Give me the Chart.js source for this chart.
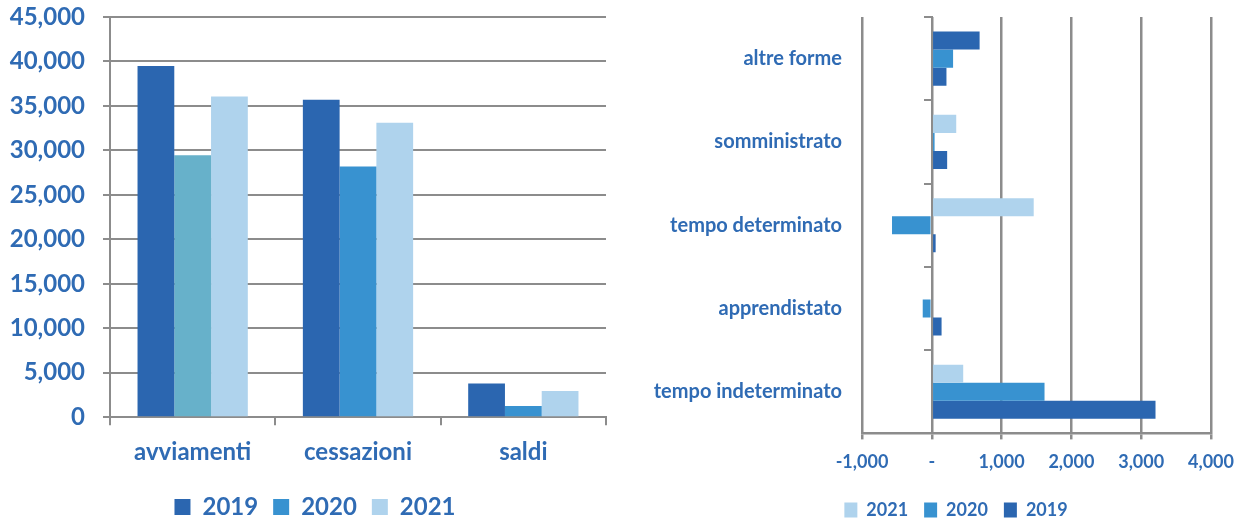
<!DOCTYPE html>
<html>
<head>
<meta charset="utf-8">
<script src="https://cdn.jsdelivr.net/npm/chart.js@4/dist/chart.umd.min.js"></script>
<style>
html,body{margin:0;padding:0;background:#fff;}
#wrap{position:relative;width:1245px;height:522px;overflow:hidden;}
#c1{position:absolute;left:0;top:0;}
#c2{position:absolute;left:640px;top:0;}
</style>
</head>
<body>
<div id="wrap">
<canvas id="c1" width="630" height="522"></canvas>
<canvas id="c2" width="632" height="522"></canvas>
</div>
<script>
// ---- Left chart data ----
const flowCategories = ['avviamenti', 'cessazioni', 'saldi'];
const flow2019 = [39500, 35700, 3800];
const flow2020 = [29450, 28200, 1250];
const flow2021 = [36050, 33100, 2950];
const flowTicks = [0, 5000, 10000, 15000, 20000, 25000, 30000, 35000, 40000, 45000];

// ---- Right chart data ----
const contractTypes = ['altre forme', 'somministrato', 'tempo determinato', 'apprendistato', 'tempo indeterminato'];
const bal2021 = [685, 350, 1460, 0, 450];
const bal2020 = [305, 40, -570, -130, 1615];
const bal2019 = [210, 220, 55, 140, 3205];
const balTicks = [-1000, 0, 1000, 2000, 3000, 4000];

const DARK = '#2b66b0', MID = '#3892d0', LIGHT = '#afd3ed', TEAL = '#67b1ca';
const TEXT = '#2f6bb4', GRID = '#8c8c8c';
const FONT = 'Lato, "Open Sans", sans-serif';

Chart.defaults.font.family = FONT;
Chart.defaults.font.weight = 'bold';
Chart.defaults.color = TEXT;

const fmt = v => Number(v).toLocaleString('en-US');

function legendFrom(items) {
  return function() {
    return items.map((it, i) => ({
      text: it[0], fillStyle: it[1], strokeStyle: it[1], lineWidth: 0,
      hidden: false, datasetIndex: i, fontColor: TEXT
    }));
  };
}
function fixWidth(w) {
  return s => { s.width = w; s.paddingTop = 0; s.paddingBottom = 0; };
}
function spacer(w) {
  return {
    type: 'linear', position: 'right', display: true,
    grid: { display: false }, border: { display: false }, ticks: { display: false },
    afterFit: fixWidth(w)
  };
}

new Chart(document.getElementById('c1'), {
  type: 'bar',
  data: {
    labels: flowCategories,
    datasets: [
      { label: '2019', data: flow2019, backgroundColor: DARK },
      { label: '2020', data: flow2020, backgroundColor: [TEAL, MID, MID] },
      { label: '2021', data: flow2021, backgroundColor: LIGHT }
    ]
  },
  options: {
    responsive: false, animation: false, devicePixelRatio: 1,
    layout: { padding: { left: 0, right: 0, top: 17, bottom: -7 } },
    datasets: { bar: { categoryPercentage: 0.667, barPercentage: 1.0 } },
    scales: {
      x: {
        offset: true,
        grid: { display: true, drawOnChartArea: false, offset: true, tickLength: 8, color: GRID, lineWidth: 2 },
        border: { display: true, color: GRID, width: 2 },
        ticks: { font: { size: 24, weight: 'bold' }, color: TEXT, padding: 13 }
      },
      y: {
        min: 0, max: 45000,
        afterFit: fixWidth(110),
        afterBuildTicks: s => { s.ticks = flowTicks.map(v => ({ value: v })); },
        grid: { color: GRID, lineWidth: 2, tickLength: 7 },
        border: { display: true, color: GRID, width: 2 },
        ticks: { font: { size: 24, weight: 'bold' }, color: TEXT, padding: 18, callback: v => fmt(v) }
      },
      pad: spacer(24)
    },
    plugins: {
      tooltip: { enabled: false },
      legend: {
        position: 'bottom',
        labels: {
          boxWidth: 16, boxHeight: 16, padding: 15,
          font: { size: 24, weight: 'bold' }, color: TEXT,
          generateLabels: legendFrom([['2019', DARK], ['2020', MID], ['2021', LIGHT]])
        }
      }
    }
  }
});

new Chart(document.getElementById('c2'), {
  type: 'bar',
  data: {
    labels: contractTypes,
    datasets: [
      { label: '2021', data: bal2021, backgroundColor: [DARK, LIGHT, LIGHT, LIGHT, LIGHT] },
      { label: '2020', data: bal2020, backgroundColor: MID },
      { label: '2019', data: bal2019, backgroundColor: DARK }
    ]
  },
  options: {
    indexAxis: 'y',
    responsive: false, animation: false, devicePixelRatio: 1,
    layout: { padding: { left: 0, right: 0, top: 17, bottom: -7 } },
    datasets: { bar: { categoryPercentage: 0.65, barPercentage: 1.0 } },
    scales: {
      x: {
        min: -1000, max: 4000,
        afterBuildTicks: s => { s.ticks = balTicks.map(v => ({ value: v })); },
        grid: { color: GRID, lineWidth: 2.5, tickLength: 6 },
        border: { display: true, color: GRID, width: 2.5 },
        ticks: { font: { size: 18, weight: 'bold' }, color: TEXT, padding: 12,
                 callback: v => v === 0 ? '-' : fmt(v) }
      },
      y: {
        offset: true,
        afterFit: fixWidth(222),
        grid: { display: false, drawTicks: false },
        border: { display: false },
        ticks: { font: { size: 20, weight: 'bold' }, color: TEXT, padding: 20 }
      },
      yz: {
        type: 'category',
        labels: contractTypes,
        position: { x: 0 },
        offset: true,
        grid: { display: true, drawOnChartArea: false, offset: true, tickLength: 7, color: GRID, lineWidth: 2 },
        border: { display: true, color: GRID, width: 2 },
        ticks: { display: false }
      },
      pad: spacer(61)
    },
    plugins: {
      tooltip: { enabled: false },
      legend: {
        position: 'bottom',
        labels: {
          boxWidth: 13, boxHeight: 15, padding: 16,
          font: { size: 18, weight: 'bold' }, color: TEXT,
          generateLabels: legendFrom([['2021', LIGHT], ['2020', MID], ['2019', DARK]])
        }
      }
    }
  }
});
</script>
</body>
</html>
